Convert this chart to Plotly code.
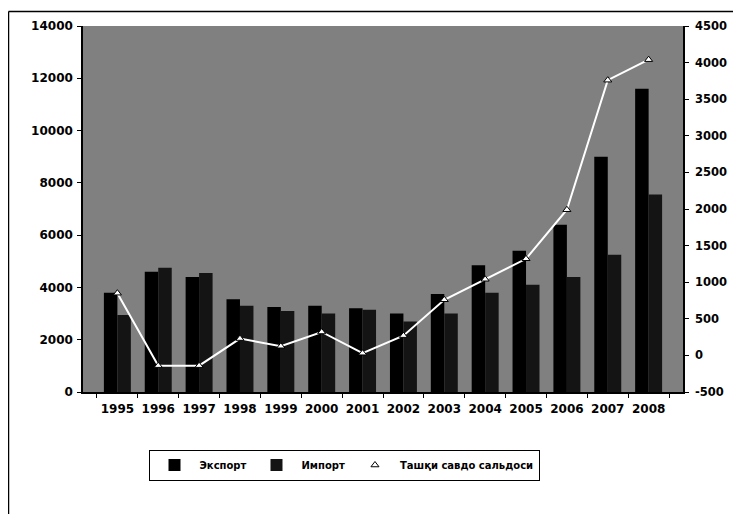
import plotly.graph_objects as go

years = ["1995", "1996", "1997", "1998", "1999", "2000", "2001",
         "2002", "2003", "2004", "2005", "2006", "2007", "2008"]
export_vals = [3800, 4600, 4400, 3550, 3250, 3300, 3200, 3000, 3750, 4850, 5400, 6400, 9000, 11600]
import_vals = [2950, 4750, 4550, 3300, 3100, 3000, 3150, 2700, 3000, 3800, 4100, 4400, 5250, 7550]
balance_vals = [850, -140, -140, 230, 125, 320, 30, 270, 760, 1040, 1320, 1990, 3760, 4040]

left_ticks = [0, 2000, 4000, 6000, 8000, 10000, 12000, 14000]
right_ticks = [-500, 0, 500, 1000, 1500, 2000, 2500, 3000, 3500, 4000, 4500]
right_labels = ["-500", "0", "500", "1000", "1500", "2000", "2500", "3000", "3500", "4000", "4500"]

font = dict(family="DejaVu Sans", size=12, color="black", weight="bold")
rfont = dict(family="DejaVu Sans", size=11.5, color="black", weight="bold")

fig = go.Figure()
fig.add_trace(go.Bar(x=years, y=export_vals, name="Экспорт",
                     marker=dict(color="#000000", line=dict(width=0))))
fig.add_trace(go.Bar(x=years, y=import_vals, name="Импорт",
                     marker=dict(color="#141414", line=dict(width=0))))
fig.add_trace(go.Scatter(x=years, y=balance_vals, name="Ташқи савдо сальдоси",
                         yaxis="y2", mode="lines+markers",
                         line=dict(color="white", width=2),
                         marker=dict(symbol="triangle-up", size=7, color="white",
                                     line=dict(color="black", width=1))))

# page offset of 8px (body margin) compensated
OFF = 8
L, R, T, B = 83 - OFF, 683 - OFF, 26 - OFF, 392 - OFF
W, H = 741 - 2 * OFF, 522 - 2 * OFF

def px(x):
    return (x - OFF - L) / (R - L)

def py(y):
    return (B - (y - OFF)) / (B - T)

fig.update_layout(
    width=W, height=H,
    margin=dict(l=L, r=W - R, t=T, b=H - B, pad=0, autoexpand=False),
    paper_bgcolor="white",
    plot_bgcolor="#808080",
    barmode="group", bargap=0.34, bargroupgap=0.0,
    font=font,
    showlegend=True,
    legend=dict(orientation="h", x=px(344), xanchor="center", y=py(465), yanchor="middle",
                bordercolor="black", borderwidth=1, bgcolor="white",
                font=dict(family="DejaVu Sans", size=10, color="black", weight="bold"),
                itemwidth=40, traceorder="normal"),
    xaxis=dict(type="category", showline=True, linecolor="black", linewidth=1.5,
               ticks="outside", tickson="boundaries", ticklen=4, tickcolor="black",
               tickangle=0, automargin=False,
               ticklabelstandoff=5, showgrid=False, mirror=False, tickfont=font),
    yaxis=dict(range=[0, 14000], tickvals=left_ticks, tickformat="d", showline=True,
               linecolor="black", linewidth=1.5, ticks="outside", ticklen=4, tickcolor="black",
               automargin=False,
               ticklabelstandoff=2, showgrid=False, zeroline=False, tickfont=font),
    yaxis2=dict(range=[-500, 4500], tickvals=right_ticks, ticktext=right_labels, overlaying="y",
                side="right", showline=True, linecolor="black", linewidth=1.5, ticks="outside",
                ticklen=4, tickcolor="black", ticklabelstandoff=4, showgrid=False,
                automargin=False,
                zeroline=False, tickfont=rfont),
    shapes=[
        dict(type="line", xref="paper", yref="paper",
             x0=px(8.5), x1=px(741), y0=py(11.5), y1=py(11.5),
             line=dict(color="black", width=1.5)),
        dict(type="line", xref="paper", yref="paper",
             x0=px(8.5), x1=px(8.5), y0=py(11.5), y1=py(522),
             line=dict(color="black", width=1.5)),
    ],
)

fig.write_html("out.html")
